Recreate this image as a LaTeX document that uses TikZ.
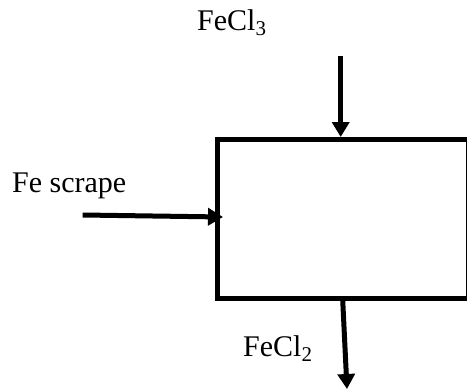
\documentclass[tikz,border=0pt]{standalone}
\usepackage{fontspec}
\setmainfont{Liberation Serif}
\usetikzlibrary{arrows.meta}
\newcommand\chemsub[1]{\raisebox{-5pt}{\fontsize{21}{21}\selectfont #1}}
\begin{document}
\begin{tikzpicture}[x=1pt,y=-1pt,
  flow/.style={line width=5pt,-{Triangle[length=15pt,width=17pt]}},
  label/.style={anchor=base west,inner sep=0pt,font=\fontsize{30}{36}\selectfont},
  unit/.style={draw,line width=5pt,inner sep=0pt,minimum width=251.5pt,minimum height=159pt}]
\useasboundingbox (0,0) rectangle (467,391);
\node[unit] (box) at (342.75,219) {};
\node[label] (fecl3) at (197,30) {FeCl\chemsub{3}};
\node[label] (fe) at (12,192.7) {Fe scrape};
\node[label] (fecl2) at (243,356) {FeCl\chemsub{2}};
\coordinate (t0) at (340.7,55.7);
\coordinate (l0) at (82.7,215);
\coordinate (l1) at (223,217);
\coordinate (b1) at (347,389);
\draw[flow] (t0) -- (t0 |- box.north);
\draw[flow] (l0) -- (l1);
\draw[flow] (box.south) -- (b1);
\end{tikzpicture}
\end{document}
